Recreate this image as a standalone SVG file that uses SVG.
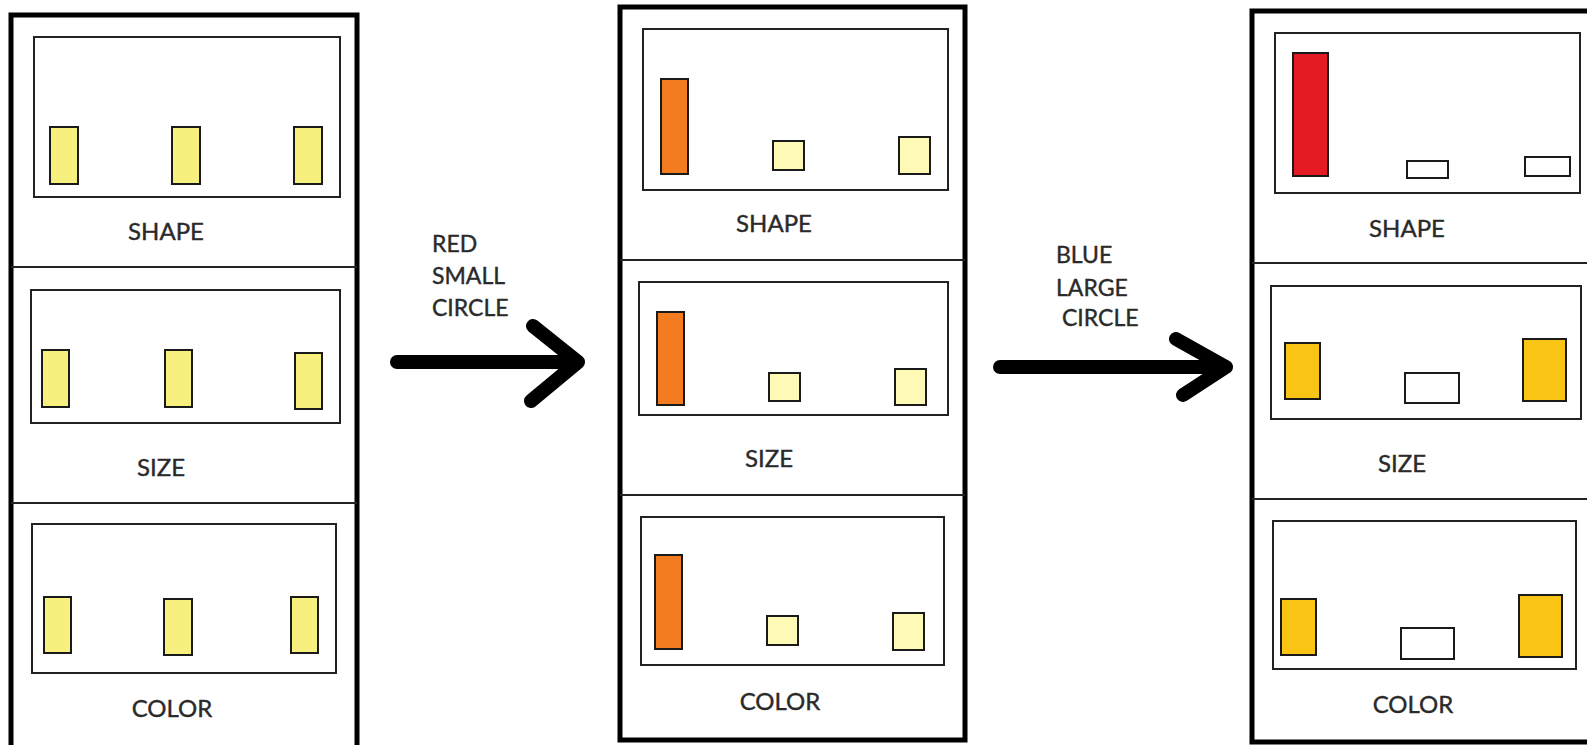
<svg xmlns="http://www.w3.org/2000/svg" width="1587" height="745" viewBox="0 0 1587 745">
<style>
.outer{fill:none;stroke:#000;stroke-width:5}
.div{stroke:#222;stroke-width:2}
.inner{fill:none;stroke:#222;stroke-width:2}
.bar{stroke:#1a1a1a;stroke-width:2}
.y1{fill:#F8F07E}
.y2{fill:#FEFAB6}
.or{fill:#F47C20}
.rd{fill:#E51B24}
.gd{fill:#FAC414}
.wh{fill:#fff}
.lbl{font-family:Lato,"Open Sans",sans-serif;font-size:24px;fill:#2a2a2a;stroke:#2a2a2a;stroke-width:0.4;text-anchor:middle}
.alb{font-family:Lato,"Open Sans",sans-serif;font-size:23px;fill:#2a2a2a;stroke:#2a2a2a;stroke-width:0.4}
.arr{fill:none;stroke:#000;stroke-width:14;stroke-linecap:round;stroke-linejoin:round}
</style>
<rect width="1587" height="745" fill="#fff"/>
<g id="panel1">
<path class="outer" d="M11,760 V15 H357 V760"/>
<line class="div" x1="11" y1="267" x2="357" y2="267"/>
<line class="div" x1="11" y1="503" x2="357" y2="503"/>
<rect class="inner" x="34" y="37" width="306" height="160"/>
<rect class="bar y1" x="50" y="127" width="28" height="57"/>
<rect class="bar y1" x="172" y="127" width="28" height="57"/>
<rect class="bar y1" x="294" y="127" width="28" height="57"/>
<text class="lbl" x="166" y="240">SHAPE</text>
<rect class="inner" x="31" y="290" width="309" height="133"/>
<rect class="bar y1" x="42" y="350" width="27" height="57"/>
<rect class="bar y1" x="165" y="350" width="27" height="57"/>
<rect class="bar y1" x="295" y="353" width="27" height="56"/>
<text class="lbl" x="161" y="476">SIZE</text>
<rect class="inner" x="32" y="524" width="304" height="149"/>
<rect class="bar y1" x="44" y="597" width="27" height="56"/>
<rect class="bar y1" x="164" y="599" width="28" height="56"/>
<rect class="bar y1" x="291" y="597" width="27" height="56"/>
<text class="lbl" x="172" y="717">COLOR</text>
</g>
<g id="panel2">
<rect class="outer" x="620" y="7" width="345" height="733"/>
<line class="div" x1="620" y1="260" x2="965" y2="260"/>
<line class="div" x1="620" y1="495" x2="965" y2="495"/>
<rect class="inner" x="643" y="29" width="305" height="161"/>
<rect class="bar or" x="661" y="79" width="27" height="95"/>
<rect class="bar y2" x="773" y="141" width="31" height="29"/>
<rect class="bar y2" x="899" y="137" width="31" height="37"/>
<text class="lbl" x="774" y="232">SHAPE</text>
<rect class="inner" x="639" y="282" width="309" height="133"/>
<rect class="bar or" x="657" y="312" width="27" height="93"/>
<rect class="bar y2" x="769" y="373" width="31" height="28"/>
<rect class="bar y2" x="895" y="369" width="31" height="36"/>
<text class="lbl" x="769" y="467">SIZE</text>
<rect class="inner" x="641" y="517" width="303" height="148"/>
<rect class="bar or" x="655" y="555" width="27" height="94"/>
<rect class="bar y2" x="767" y="616" width="31" height="29"/>
<rect class="bar y2" x="893" y="613" width="31" height="37"/>
<text class="lbl" x="780" y="710">COLOR</text>
</g>
<g id="panel3">
<path class="outer" d="M1600,11 H1252 V742 H1600"/>
<line class="div" x1="1252" y1="263" x2="1587" y2="263"/>
<line class="div" x1="1252" y1="499" x2="1587" y2="499"/>
<rect class="inner" x="1275" y="33" width="305" height="160"/>
<rect class="bar rd" x="1293" y="53" width="35" height="123"/>
<rect class="bar wh" x="1407" y="161" width="41" height="17"/>
<rect class="bar wh" x="1525" y="157" width="45" height="19"/>
<text class="lbl" x="1407" y="237">SHAPE</text>
<rect class="inner" x="1271" y="286" width="310" height="133"/>
<rect class="bar gd" x="1285" y="343" width="35" height="56"/>
<rect class="bar wh" x="1405" y="373" width="54" height="30"/>
<rect class="bar gd" x="1523" y="339" width="43" height="62"/>
<text class="lbl" x="1402" y="472">SIZE</text>
<rect class="inner" x="1273" y="521" width="303" height="148"/>
<rect class="bar gd" x="1281" y="599" width="35" height="56"/>
<rect class="bar wh" x="1401" y="628" width="53" height="31"/>
<rect class="bar gd" x="1519" y="595" width="43" height="62"/>
<text class="lbl" x="1413" y="713">COLOR</text>
</g>
<g id="connectors">
<g id="arrow1">
<path class="arr" d="M397,362 H578 M533,326 L578,362 L531,401"/>
<text class="alb" x="432" y="252">RED</text>
<text class="alb" x="432" y="284">SMALL</text>
<text class="alb" x="432" y="316">CIRCLE</text>
</g>
<g id="arrow2">
<path class="arr" d="M1000,367 H1226 M1176,339 L1226,367 L1183,395"/>
<text class="alb" x="1056" y="263">BLUE</text>
<text class="alb" x="1056" y="296">LARGE</text>
<text class="alb" x="1062" y="326">CIRCLE</text>
</g>
</g>
</svg>
